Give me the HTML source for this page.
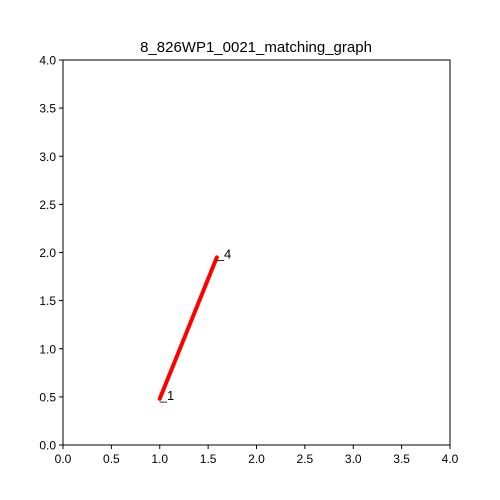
<!DOCTYPE html>
<html><head><meta charset="utf-8"><style>
body{margin:0;background:#fff}
svg{display:block;font-family:"Liberation Sans","DejaVu Sans",sans-serif}
</style></head><body>
<svg id="chart" width="500" height="500">
<rect x="0" y="0" width="500" height="500" fill="#fff"/>
<text x="256" y="52" text-anchor="middle" font-size="15">8_826WP1_0021_matching_graph</text>
<g id="ticks"></g>
<g id="marks"></g>
<rect x="63" y="60" width="387" height="385" fill="none" stroke="#000" stroke-width="1"/>
</svg>
<script>
const xTicks=[0,0.5,1,1.5,2,2.5,3,3.5,4];
const yTicks=[0,0.5,1,1.5,2,2.5,3,3.5,4];
const nodeLabels=["1","4"];
const nodeX=[1.0,1.59];
const nodeY=[0.48,1.95];
const X0=63,X1=450,Y0=445,Y1=60;
const sx=v=>X0+(v-0)/(4-0)*(X1-X0);
const sy=v=>Y0-(v-0)/(4-0)*(Y0-Y1);
const NS="http://www.w3.org/2000/svg";
const tg=document.getElementById('ticks'),mg=document.getElementById('marks');
function mk(tag,attrs,parent){const e=document.createElementNS(NS,tag);for(const k in attrs)e.setAttribute(k,attrs[k]);parent.appendChild(e);return e;}
xTicks.forEach(t=>{
 const l=mk('line',{x1:sx(t),x2:sx(t),y1:Y0,y2:Y0+4,stroke:'#000'},tg);
 
 
 const tx=mk('text',{x:sx(t),y:Y0+18,'text-anchor':'middle','font-size':'12'},tg);
 tx.textContent=t.toFixed(1);
 
 
});
yTicks.forEach(t=>{
 const l=mk('line',{x1:X0-4,x2:X0,y1:sy(t),y2:sy(t),stroke:'#000'},tg);
 
 
 const tx=mk('text',{x:X0-7,y:sy(t)+4.5,'text-anchor':'end','font-size':'12'},tg);
 tx.textContent=t.toFixed(1);
 
 
});
for(let i=0;i<nodeX.length-1;i++){
 const l=mk('line',{x1:sx(nodeX[i]),y1:sy(nodeY[i]),x2:sx(nodeX[i+1]),y2:sy(nodeY[i+1]),stroke:'#ff0000','stroke-width':'4','stroke-linecap':'round'},mg);
 
 
}
nodeX.forEach((v,i)=>{
 const tx=mk('text',{x:sx(v),y:sy(nodeY[i])+1,'font-size':'13'},mg);
 tx.textContent='_'+nodeLabels[i];
 
 
});
</script>
</body></html>
